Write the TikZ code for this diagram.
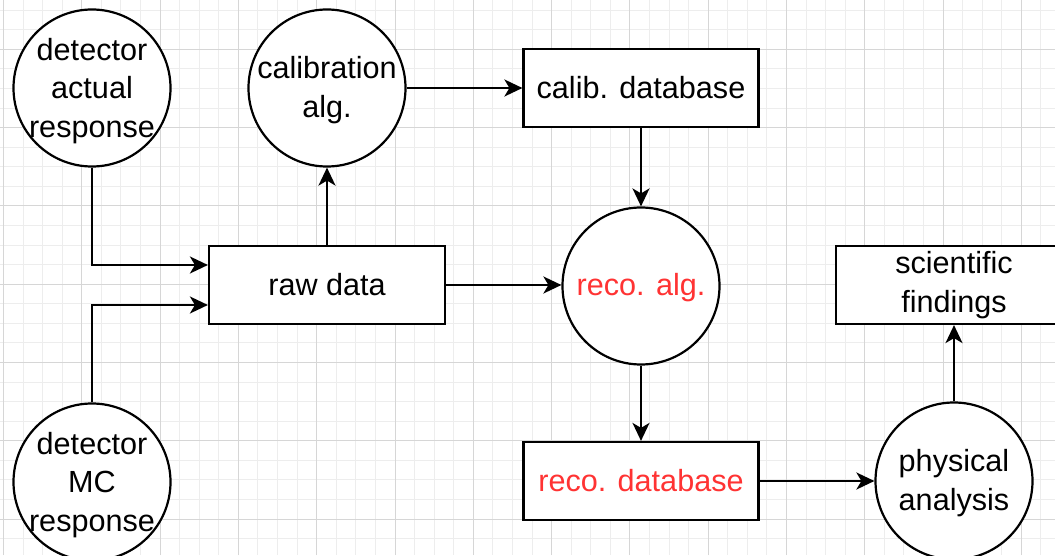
\documentclass[tikz,border=0pt]{standalone}
\usepackage{fontspec}
\setmainfont{Liberation Sans}
\usetikzlibrary{arrows.meta,calc}
\definecolor{recored}{HTML}{FF3333}
\definecolor{gridminor}{HTML}{EDEDED}
\definecolor{gridmajor}{HTML}{D6D6D6}
\begin{document}
\begin{tikzpicture}[x=1pt,y=1pt,
  circ/.style={draw,circle,line width=2.2pt,fill=white,minimum size=157pt,inner sep=0pt},
  box/.style={draw,rectangle,line width=2.2pt,fill=white,minimum width=235pt,minimum height=78pt,inner sep=0pt},
  txt/.style={font=\fontsize{30.6}{38.3}\selectfont,align=center,inner sep=0pt},
  conn/.style={line width=2.2pt,-{Stealth[length=18pt,width=17pt,inset=5pt]}},
]
\useasboundingbox (0,0) rectangle (1055,555);
\fill[white] (0,0) rectangle (1055,555);
\begin{scope}
\clip (0,0) rectangle (1055,555);
\foreach \k in {0,...,53} {\draw[gridminor,line width=1pt] ({3.5+19.575*\k},0) -- ++(0,555);}
\foreach \k in {-3,...,26} {\draw[gridminor,line width=1pt] (0,{505.7-19.575*\k}) -- ++(1055,0);}
\foreach \k in {0,4,...,52} {\draw[gridmajor,line width=1pt] ({3.5+19.575*\k},0) -- ++(0,555);}
\foreach \k in {-4,0,...,24} {\draw[gridmajor,line width=1pt] (0,{505.7-19.575*\k}) -- ++(1055,0);}
\end{scope}

\node[circ,label={[txt,yshift=-3pt]center:{detector\\actual\\response}}] (dar) at (92,467) {};
\node[circ,label={[txt,yshift=-3pt]center:{detector\\MC\\response}}] (dmc) at (92,73) {};
\node[circ,label={[txt,yshift=-2pt]center:{calibration\\alg.}}] (cal) at (327,467) {};
\node[box,txt] (cdb) at (641,467) {calib. database};
\node[box,txt,minimum width=236pt] (raw) at (327,270) {raw data};
\node[circ,label={[txt,text=recored,yshift=-2pt]center:{reco. alg.}}] (reco) at (641,269) {};
\node[box,txt,text=recored] (rdb) at (641,74) {reco. database};
\node[box,txt,minimum width=236pt] (sci) at (954,270) {scientific\\findings};
\node[circ,label={[txt,yshift=-2pt]center:{physical\\analysis}}] (phy) at (954,74) {};

\draw[conn] (dar.south) |- ($(raw.west)+(0,20)$);
\draw[conn] (dmc.north) |- ($(raw.west)+(0,-20)$);
\draw[conn] (raw.north) -- (cal.south);
\draw[conn] (cal.east) -- (cdb.west);
\draw[conn] (cdb.south) -- (reco.north);
\draw[conn] (raw.east) -- (reco.west |- raw.east);
\draw[conn] (reco.south) -- (rdb.north);
\draw[conn] (rdb.east) -- (phy.west);
\draw[conn] (phy.north) -- (sci.south);
\end{tikzpicture}
\end{document}
